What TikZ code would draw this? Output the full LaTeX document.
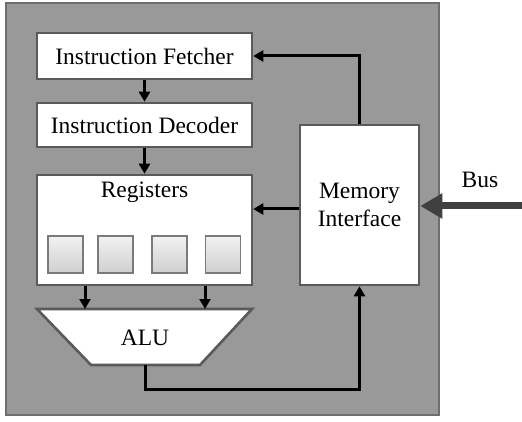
\documentclass[tikz,border=0pt]{standalone}
\usepackage{fontspec}
\setmainfont{Liberation Serif}
\usetikzlibrary{arrows.meta,calc}
\definecolor{bgfill}{HTML}{999999}
\definecolor{bgline}{HTML}{6E6E6E}
\definecolor{boxline}{HTML}{5A5A5A}
\definecolor{cellline}{HTML}{7A7A7A}
\definecolor{cellTop}{HTML}{F2F2F2}
\definecolor{cellBot}{HTML}{CFCFCF}
\definecolor{busc}{HTML}{404040}
\tikzset{
  unitbox/.style={draw=boxline, line width=2.6pt, fill=white, inner sep=0pt, font=\fontsize{23.5}{28}\selectfont},
  regcell/.style={draw=cellline, line width=1.6pt, top color=cellTop, bottom color=cellBot, minimum width=35pt, minimum height=37pt, inner sep=0pt},
  lbl/.style={font=\fontsize{23.5}{28}\selectfont, inner sep=0pt},
  arr/.style={line width=3pt, -{Triangle[length=10pt,width=11pt]}},
  busarr/.style={draw=busc, line width=7pt, -{Triangle[length=22pt,width=24pt]}}
}
\begin{document}
\begin{tikzpicture}[x=1pt,y=-1pt]
\useasboundingbox (0,0) rectangle (522,422);
% outer chip
\draw[bgline, fill=bgfill, line width=2pt] (6,3) rectangle (439,415);
% boxes
\node[unitbox, minimum width=215pt, minimum height=46pt] (fetch) at (144.5,56) {Instruction Fetcher};
\node[unitbox, minimum width=215pt, minimum height=44pt] (dec) at (144.5,125) {Instruction Decoder};
\node[unitbox, minimum width=215pt, minimum height=110pt] (reg) at (144.5,230) {};
\node[lbl] (regtxt) at (144.5,192) {Registers};
\node[regcell] (c1) at (65.5,254.5) {};
\node[regcell] (c2) at (115.5,254.5) {};
\node[regcell] (c3) at (169.5,254.5) {};
\node[regcell] (c4) at (223,254.5) {};
\node[unitbox, minimum width=119pt, minimum height=160pt, align=center] (mem) at (359.5,205) {Memory\\Interface};
% ALU trapezoid
\draw[boxline, fill=white, line width=2.6pt, line join=miter] (37,309) -- (252,309) -- (200,365) -- (91,365) -- cycle;
\node[lbl] (alu) at (145,338) {ALU};
\coordinate (a1) at (85,309);
\coordinate (a2) at (205,309);
\coordinate (alubot) at (145,365);
\coordinate (mr) at (0,209);
\coordinate (busstart) at (522,206);
% connectors
\draw[arr] (fetch.south) -- (dec.north);
\draw[arr] (dec.south) -- (reg.north);
\draw[arr] (reg.south -| a1) -- (a1);
\draw[arr] (reg.south -| a2) -- (a2);
\draw[arr] (alubot) |- ($(mem.south)+(0,103)$) -- (mem.south);
\draw[arr] (mem.north) |- (fetch.east);
\draw[arr] (mem.west |- mr) -- (reg.east |- mr);
\draw[busarr] (busstart) -- (mem.east |- busstart);
\node[lbl] (bus) at (480,180) {Bus};
\end{tikzpicture}
\end{document}
